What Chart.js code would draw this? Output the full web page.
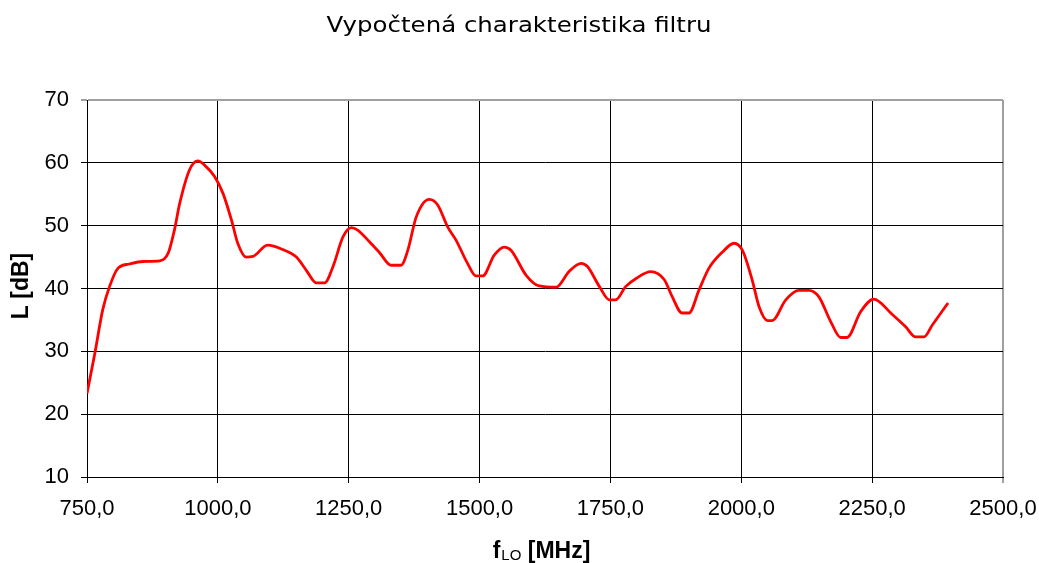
<!DOCTYPE html>
<html>
<head>
<meta charset="utf-8">
<script src="https://cdn.jsdelivr.net/npm/chart.js@4.4.1/dist/chart.umd.min.js"></script>
<style>
  html, body { margin: 0; padding: 0; background: #fff; }
  #wrap { width: 1039px; height: 563px; }
</style>
</head>
<body>
<div id="wrap"><canvas id="myChart" width="1039" height="563"></canvas></div>
<script>
// Data
const chartTitle = "Vypočtená charakteristika filtru";
const xTicks = [750, 1000, 1250, 1500, 1750, 2000, 2250, 2500];
const yTicks = [10, 20, 30, 40, 50, 60, 70];

const freqs = [750, 765, 780, 793, 809, 831, 857, 889, 905, 917, 927, 946, 962, 975, 994,
  1010, 1026, 1038, 1054, 1067, 1095, 1124, 1150, 1169, 1188, 1204, 1220, 1239, 1255, 1267,
  1290, 1309, 1331, 1350, 1363, 1379, 1404, 1420, 1439, 1455, 1477, 1493, 1506, 1528, 1547,
  1560, 1589, 1614, 1646, 1671, 1694, 1706, 1729, 1748, 1760, 1779, 1799, 1827, 1853, 1868,
  1887, 1900, 1919, 1938, 1964, 1986, 2002, 2021, 2034, 2050, 2059, 2085, 2110, 2129, 2148,
  2171, 2190, 2202, 2228, 2253, 2288, 2314, 2333, 2349, 2365, 2395];
const levels = [23.3, 29.7, 36.6, 40.3, 43.2, 43.9, 44.3, 44.4, 45.6, 49.3, 53.5, 58.9, 60.3, 59.6, 57.8,
  55.1, 50.9, 47.2, 45.0, 45.1, 46.9, 46.2, 45.0, 42.9, 40.9, 40.9, 43.5, 48.2, 49.7, 49.3,
  47.4, 45.7, 43.7, 43.7, 46.1, 51.4, 54.2, 53.3, 49.8, 47.7, 44.0, 42.0, 42.0, 45.3, 46.6,
  46.1, 42.1, 40.4, 40.2, 42.7, 44.0, 43.5, 40.3, 38.2, 38.2, 40.3, 41.6, 42.7, 41.4, 38.7,
  36.1, 36.1, 39.7, 43.2, 45.8, 47.2, 46.1, 41.3, 37.1, 34.9, 34.9, 38.2, 39.7, 39.7, 38.7,
  34.7, 32.2, 32.2, 36.3, 38.3, 35.9, 33.9, 32.3, 32.3, 34.2, 37.7];

const fontFamily = '"Liberation Sans", Arial, sans-serif';

// Titles drawn by hand (x title needs a subscript)
const titlesPlugin = {
  id: "titles",
  afterDraw(chart) {
    const ctx = chart.ctx;
    ctx.save();
    ctx.fillStyle = "#000";
    ctx.textBaseline = "alphabetic";

    // chart title, fitted to the original width
    ctx.save();
    ctx.font = '22px "DejaVu Sans", sans-serif';
    ctx.textAlign = "center";
    const tw = ctx.measureText(chartTitle).width;
    ctx.translate(519, 32);
    ctx.scale(385 / tw, 1);
    ctx.fillText(chartTitle, 0, 0);
    ctx.restore();

    // y title
    ctx.save();
    ctx.translate(28, 286);
    ctx.rotate(-Math.PI / 2);
    ctx.font = "bold 23px " + fontFamily;
    ctx.textAlign = "center";
    ctx.fillText("L [dB]", 0, 0);
    ctx.restore();

    // x title: f_LO [MHz]
    const big = "bold 23px " + fontFamily;
    const small = "15px " + fontFamily;
    ctx.font = big;
    const wF = ctx.measureText("f").width;
    const wRest = ctx.measureText(" [MHz]").width;
    ctx.font = small;
    const wSub = ctx.measureText("LO").width;
    let x = 541 - (wF + wSub + wRest) / 2;
    const base = 558;
    ctx.textAlign = "left";
    ctx.font = big;
    ctx.fillText("f", x, base);
    x += wF + 1;
    ctx.font = small;
    ctx.fillText("LO", x, base + 2);
    x += wSub;
    ctx.font = big;
    ctx.fillText(" [MHz]", x, base);
    ctx.restore();
  }
};

let init = () => {
  const ctx = document.getElementById("myChart").getContext("2d");

  new Chart(ctx, {
    type: "line",
    data: {
      datasets: [{
        data: freqs.map((f, i) => ({ x: f, y: levels[i] })),
        borderColor: "#ff0000",
        borderWidth: 2.8,
        pointRadius: 0,
        fill: false,
        cubicInterpolationMode: "monotone"
      }]
    },
    options: {
      responsive: false,
      animation: false,
      layout: { padding: { top: 100, right: 36, left: 0, bottom: 0 } },
      plugins: {
        legend: { display: false },
        title: { display: false },
        tooltip: { enabled: false }
      },
      scales: {
        x: {
          type: "linear",
          min: xTicks[0],
          max: xTicks[xTicks.length - 1],
          afterBuildTicks: (scale) => { scale.ticks = xTicks.map(v => ({ value: v })); },
          afterFit: (scale) => {
            scale.height = 86;
            scale.paddingLeft = 0;
            scale.paddingRight = 0;
          },
          ticks: {
            color: "#000",
            padding: 13,
            maxRotation: 0,
            font: { family: fontFamily, size: 22 },
            callback: (v) => v.toFixed(1).replace(".", ",")
          },
          grid: {
            color: (c) => (c.tick && c.tick.value === 2500) ? "#a0a0a0" : "#000",
            lineWidth: (c) => (c.tick && c.tick.value === 2500) ? 2 : 1,
            tickLength: 6
          },
          border: { color: "#000", width: 1 }
        },
        y: {
          min: yTicks[0],
          max: yTicks[yTicks.length - 1],
          afterBuildTicks: (scale) => { scale.ticks = yTicks.map(v => ({ value: v })); },
          afterFit: (scale) => {
            scale.width = 87;
            scale.paddingTop = 0;
            scale.paddingBottom = 0;
          },
          ticks: {
            color: "#000",
            padding: 12,
            font: { family: fontFamily, size: 22 }
          },
          grid: {
            color: (c) => (c.tick && c.tick.value === 70) ? "#a0a0a0" : "#000",
            lineWidth: (c) => (c.tick && c.tick.value === 70) ? 2 : 1,
            tickLength: 6
          },
          border: { color: "#000", width: 1 }
        }
      }
    },
    plugins: [titlesPlugin]
  });
};

init();
</script>
</body>
</html>
